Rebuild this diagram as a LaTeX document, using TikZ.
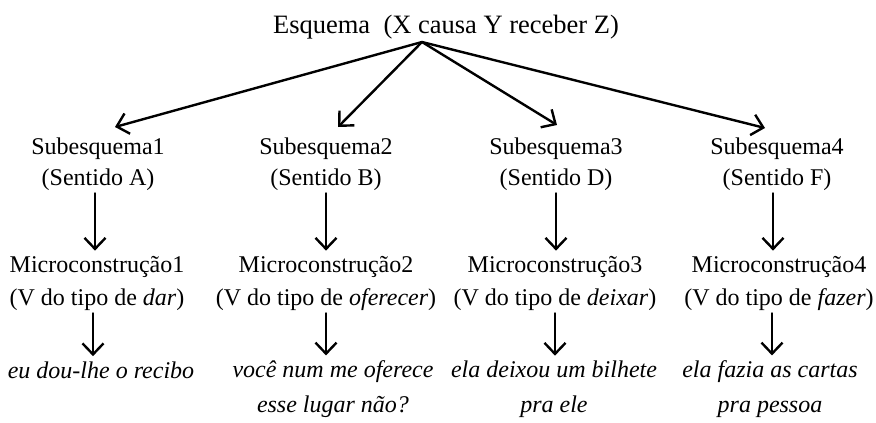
\documentclass[tikz,border=0pt]{standalone}
\usepackage{fontspec}
\setmainfont{Liberation Serif}
\usetikzlibrary{arrows.meta}
\begin{document}
\begin{tikzpicture}[x=1pt,y=-1pt,
  lbl/.style={inner sep=0pt, anchor=base, align=center},
  ftop/.style={font=\fontsize{26.5}{30}\selectfont},
  fsub/.style={font=\fontsize{24}{30.5}\selectfont},
  fmic/.style={font=\fontsize{24}{33}\selectfont},
  fex/.style={font=\fontsize{24}{34.5}\selectfont\itshape},
  arr/.style={-{Straight Barb[length=11pt,width=21pt]}, line width=2.4pt, line cap=round},
  varr/.style={arr, shorten <=3pt, shorten >=5pt},
]
\useasboundingbox (0,0) rectangle (876,423);

\node[lbl,ftop] (top) at (446,33) {Esquema\ \ (X causa Y receber Z)};
\coordinate (apex) at (422,42);
\coordinate (t1) at (115,127);
\coordinate (t2) at (338,127);
\coordinate (t3) at (557,125);
\coordinate (t4) at (765,128);

% multi-line nodes: base anchor = baseline of the last line
\node[lbl,fsub] (s1) at (98,185)  {Subesquema1\\(Sentido A)};
\node[lbl,fsub] (s2) at (326,185) {Subesquema2\\(Sentido B)};
\node[lbl,fsub] (s3) at (556,185) {Subesquema3\\(Sentido D)};
\node[lbl,fsub] (s4) at (777,185) {Subesquema4\\(Sentido F)};

\node[lbl,fmic] (m1) at (97,305)  {Microconstrução1\\(V do tipo de \textit{dar})};
\node[lbl,fmic] (m2) at (326,305) {Microconstrução2\\(V do tipo de \textit{oferecer})};
\node[lbl,fmic] (m3) at (555,305) {Microconstrução3\\(V do tipo de \textit{deixar})};
\node[lbl,fmic] (m4) at (779,305) {Microconstrução4\\(V do tipo de \textit{fazer})};

\node[lbl,fex] (e1) at (101,378) {eu dou-lhe o recibo};
\node[lbl,fex] (e2) at (333,412) {você num me oferece\\esse lugar não?};
\node[lbl,fex] (e3) at (554,412) {ela deixou um bilhete\\pra ele};
\node[lbl,fex] (e4) at (770,412) {ela fazia as cartas\\pra pessoa};

\draw[arr] (apex) -- (t1);
\draw[arr] (apex) -- (t2);
\draw[arr] (apex) -- (t3);
\draw[arr] (apex) -- (t4);

\draw[varr] ([xshift=-3pt]s1.south) -- ([xshift=-3pt]s1.south |- m1.north);
\draw[varr] (s2.south) -- (s2.south |- m2.north);
\draw[varr] (s3.south) -- (s3.south |- m3.north);
\draw[varr] ([xshift=-4pt]s4.south) -- ([xshift=-4pt]s4.south |- m4.north);

\draw[varr] ([xshift=-4pt]m1.south) -- ([xshift=-4pt]m1.south |- e1.north);
\draw[varr] (m2.south) -- (m2.south |- e2.north);
\draw[varr] (m3.south) -- (m3.south |- e3.north);
\draw[varr] ([xshift=-7pt]m4.south) -- ([xshift=-7pt]m4.south |- e4.north);
\end{tikzpicture}
\end{document}
